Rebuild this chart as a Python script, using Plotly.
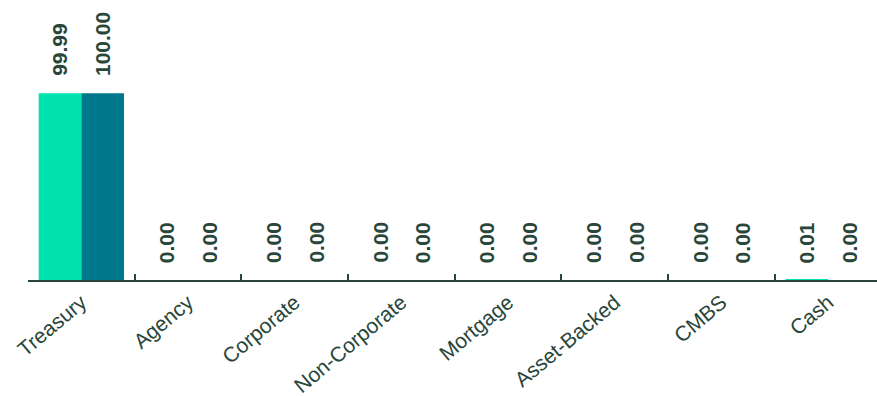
import plotly.graph_objects as go

categories = ["Treasury", "Agency", "Corporate", "Non-Corporate", "Mortgage",
              "Asset-Backed", "CMBS", "Cash"]
fund = [99.99, 0.00, 0.00, 0.00, 0.00, 0.00, 0.00, 0.01]
benchmark = [100.00, 0.00, 0.00, 0.00, 0.00, 0.00, 0.00, 0.00]

series = [("Fund", fund, "#00E3AE"), ("Benchmark", benchmark, "#00788C")]

TEXT_COLOR = "#28463A"
FONT = "Arial, Liberation Sans, sans-serif"
BARGAP = 0.2

fig = go.Figure()
for name, vals, color in series:
    fig.add_trace(go.Bar(x=categories, y=vals, name=name, marker_color=color,
                         marker_line_width=0, showlegend=False))

# value labels above each bar, rotated vertically
bar_w = (1 - BARGAP) / len(series)
annotations = []
for s, (name, vals, color) in enumerate(series):
    offset = -(1 - BARGAP) / 2 + bar_w * (s + 0.5)
    for i, v in enumerate(vals):
        annotations.append(dict(
            x=i + offset, y=v, xref="x", yref="y",
            text=f"{v:.2f}", showarrow=False, textangle=-90,
            xanchor="center", yanchor="bottom", yshift=15,
            font=dict(family=FONT, size=21, color=TEXT_COLOR, weight="bold"),
        ))

fig.update_layout(
    width=877, height=396,
    margin=dict(l=28, r=0, t=0, b=116),
    paper_bgcolor="white", plot_bgcolor="white",
    bargap=BARGAP, bargroupgap=0, barmode="group",
    annotations=annotations,
    xaxis=dict(
        range=[-0.5, 7.457],
        tickson="boundaries", ticks="inside", ticklen=6, tickwidth=1.5,
        tickcolor=TEXT_COLOR,
        showline=True, linecolor=TEXT_COLOR, linewidth=2,
        tickangle=-40,
        tickfont=dict(family=FONT, size=21, color=TEXT_COLOR),
        showgrid=False, zeroline=False,
    ),
    yaxis=dict(range=[0, 150], visible=False, showgrid=False, zeroline=False),
)

fig.write_html("out.html")
